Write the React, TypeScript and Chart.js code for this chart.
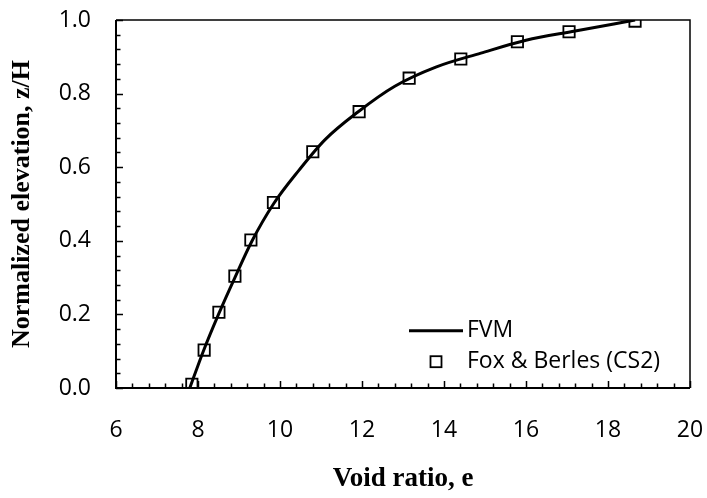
import React, { useEffect, useRef } from "react";
import { Chart, registerables } from "chart.js";

Chart.register(...registerables);

// ---- data ----
const xTickLabels = [6, 8, 10, 12, 14, 16, 18, 20];
const yTickLabels = [0, 0.2, 0.4, 0.6, 0.8, 1.0];
const xMinorStep = 0.4;
const yMinorStep = 0.04;

// Fox & Berles (CS2) markers
const foxE = [7.85, 8.15, 8.51, 8.9, 9.29, 9.84, 10.8, 11.93, 13.15, 14.41, 15.79, 17.05, 18.66];
const foxZ = [0.01, 0.103, 0.206, 0.304, 0.402, 0.504, 0.642, 0.751, 0.842, 0.894, 0.941, 0.968, 0.997];

// FVM curve
const fvmE = [7.8, 8.13, 8.5, 8.9, 9.32, 9.84, 10.45, 11.1, 11.9, 12.8, 13.8, 14.9, 16.0, 17.2, 18.66];
const fvmZ = [0, 0.1, 0.2, 0.3, 0.4, 0.5, 0.59, 0.675, 0.75, 0.82, 0.872, 0.91, 0.945, 0.97, 1.0];

const legendLabels = ["FVM", "Fox & Berles (CS2)"];

const TICK_FONT = "'Open Sans', sans-serif";
const TITLE_FONT = "'Liberation Serif', 'Times New Roman', serif";

const framePlugin = {
  id: "frame",
  afterDatasetsDraw(chart: any) {
    const { ctx, chartArea, scales } = chart;
    const { left, right, top, bottom } = chartArea;
    const xs = scales.x;
    const ys = scales.y;
    ctx.save();
    ctx.strokeStyle = "#000";
    ctx.lineWidth = 1.5;
    ctx.beginPath();
    ctx.moveTo(left, top);
    ctx.lineTo(right, top);
    ctx.lineTo(right, bottom);
    ctx.stroke();
    ctx.lineWidth = 2;
    ctx.beginPath();
    ctx.moveTo(left, top);
    ctx.lineTo(left, bottom);
    ctx.lineTo(right, bottom);
    ctx.stroke();
    ctx.lineWidth = 1.5;
    ctx.beginPath();
    const xMin = xTickLabels[0];
    const xMax = xTickLabels[xTickLabels.length - 1];
    const nx = Math.round((xMax - xMin) / xMinorStep);
    for (let i = 0; i <= nx; i++) {
      const v = xMin + i * xMinorStep;
      const isMajor = xTickLabels.some((t) => Math.abs(t - v) < 1e-6);
      const px = Math.round(xs.getPixelForValue(v)) + 0.5;
      ctx.moveTo(px, bottom);
      ctx.lineTo(px, bottom - (isMajor ? 7 : 4.5));
    }
    const yMin = yTickLabels[0];
    const yMax = yTickLabels[yTickLabels.length - 1];
    const ny = Math.round((yMax - yMin) / yMinorStep);
    for (let i = 0; i <= ny; i++) {
      const v = yMin + i * yMinorStep;
      const isMajor = yTickLabels.some((t) => Math.abs(t - v) < 1e-6);
      const py = Math.round(ys.getPixelForValue(v)) + 0.5;
      ctx.moveTo(left, py);
      ctx.lineTo(left + (isMajor ? 7 : 4.5), py);
    }
    ctx.stroke();

    // legend
    const lx = right - 281;
    const ly1 = bottom - 57.3;
    const ly2 = bottom - 26.3;
    ctx.lineWidth = 3;
    ctx.beginPath();
    ctx.moveTo(lx, ly1);
    ctx.lineTo(lx + 54, ly1);
    ctx.stroke();
    ctx.lineWidth = 1.8;
    ctx.strokeRect(lx + 27 - 5.5, ly2 - 5.5, 11, 11);
    ctx.fillStyle = "#000";
    ctx.font = `23px ${TICK_FONT}`;
    ctx.textBaseline = "middle";
    ctx.textAlign = "left";
    ctx.fillText(legendLabels[0], lx + 58, ly1);
    ctx.fillText(legendLabels[1], lx + 58, ly2);
    ctx.restore();
  },
};

const zeroPad = (scale: any) => {
  scale.paddingLeft = 0;
  scale.paddingRight = 0;
  scale.paddingTop = 0;
  scale.paddingBottom = 0;
};

export default function App() {
  const canvasRef = useRef<HTMLCanvasElement | null>(null);

  useEffect(() => {
    if (!canvasRef.current) return;
    const chart = new Chart(canvasRef.current, {
      type: "line",
      data: {
        datasets: [
          {
            label: legendLabels[1],
            data: foxE.map((e, i) => ({ x: e, y: foxZ[i] })),
            showLine: false,
            pointStyle: "rect",
            pointRadius: 8,
            pointHoverRadius: 8,
            pointBorderWidth: 1.8,
            pointBorderColor: "#000",
            pointBackgroundColor: "rgba(0,0,0,0)",
            borderColor: "#000",
          },
          {
            label: legendLabels[0],
            data: fvmE.map((e, i) => ({ x: e, y: fvmZ[i] })),
            borderColor: "#000",
            borderWidth: 3,
            pointRadius: 0,
            cubicInterpolationMode: "monotone",
            fill: false,
          },
        ],
      },
      options: {
        animation: false,
        responsive: false,
        events: [],
        layout: { padding: { top: 20, right: 17, left: 0, bottom: 0 } },
        plugins: { legend: { display: false }, tooltip: { enabled: false } },
        scales: {
          x: {
            type: "linear",
            min: 6,
            max: 20,
            afterBuildTicks: (scale: any) => {
              scale.ticks = xTickLabels.map((v) => ({ value: v }));
            },
            afterFit: (scale: any) => {
              scale.height = 110;
              zeroPad(scale);
            },
            grid: { display: false, drawTicks: false },
            border: { display: false },
            ticks: {
              color: "#000",
              font: { family: TICK_FONT, size: 23 },
              padding: 29,
              callback: (v: any) => String(v),
            },
            title: {
              display: true,
              text: "Void ratio, e",
              color: "#000",
              font: { family: TITLE_FONT, size: 27, weight: "bold" },
              padding: { top: 0, bottom: 3 },
            },
          },
          y: {
            type: "linear",
            min: 0,
            max: 1,
            afterBuildTicks: (scale: any) => {
              scale.ticks = yTickLabels.map((v) => ({ value: v }));
            },
            afterFit: (scale: any) => {
              scale.width = 116;
              zeroPad(scale);
            },
            grid: { display: false, drawTicks: false },
            border: { display: false },
            ticks: {
              color: "#000",
              font: { family: TICK_FONT, size: 23 },
              padding: 25,
              callback: (v: any) => Number(v).toFixed(1),
            },
            title: {
              display: true,
              text: "Normalized elevation, z/H",
              color: "#000",
              font: { family: TITLE_FONT, size: 26, weight: "bold" },
              padding: { top: 7, bottom: 0 },
            },
          },
        },
      },
      plugins: [framePlugin],
    } as any);
    return () => chart.destroy();
  }, []);

  return (
    <div style={{ position: "absolute", left: 0, top: 0, width: 707, height: 498, background: "#fff" }}>
      <canvas ref={canvasRef} width={707} height={498} />
    </div>
  );
}
